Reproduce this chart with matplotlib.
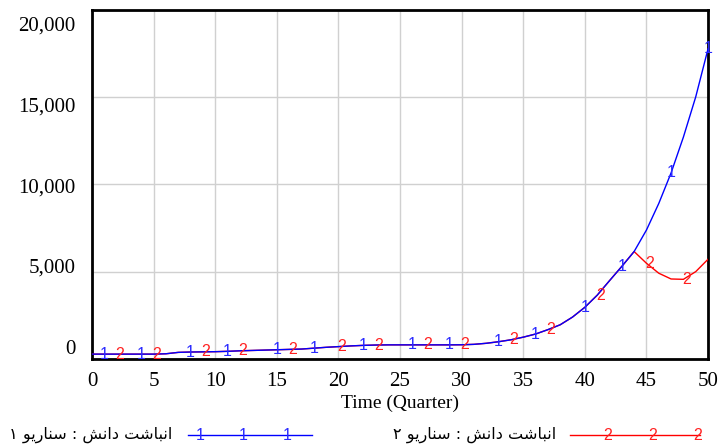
import matplotlib
matplotlib.use("Agg")
import matplotlib.pyplot as plt
import matplotlib.transforms as mtransforms
from matplotlib.lines import Line2D
from matplotlib.ticker import FuncFormatter

# quarters 0..50
time = list(range(51))
scenario1 = [280, 280, 280, 280, 280, 280, 300, 380, 400, 410,
             420, 440, 470, 490, 510, 530, 550, 570, 620, 670,
             710, 750, 780, 800, 810, 810, 810, 810, 810, 810,
             815, 840, 900, 990, 1100, 1250, 1430, 1680, 1960, 2400,
             2960, 3650, 4480, 5300, 6150, 7380, 8900, 10650, 12700, 15000,
             17750]
scenario2 = scenario1[:45] + [5480, 4910, 4580, 4560, 5000, 5710]

marks1 = [1, 4, 8, 11, 15, 18, 22, 26, 29, 33, 36, 40, 43, 47, 50]
marks2 = [2, 5, 9, 12, 16, 20, 23, 27, 30, 34, 37, 41, 45, 48]

xticks = [0, 5, 10, 15, 20, 25, 30, 35, 40, 45, 50]
yticks = [0, 5000, 10000, 15000, 20000]
label1 = "انباشت دانش : سناریو ۱"
label2 = "انباشت دانش : سناریو ۲"

# matplotlib has no arabic shaping -> tiny shaper for the letters used
# (isolated, final, initial, medial)
FORMS = {
    'ا': ('\uFE8D', '\uFE8E', None, None),
    'د': ('\uFEA9', '\uFEAA', None, None),
    'ر': ('\uFEAD', '\uFEAE', None, None),
    'و': ('\uFEED', '\uFEEE', None, None),
    'ب': ('\uFE8F', '\uFE90', '\uFE91', '\uFE92'),
    'ت': ('\uFE95', '\uFE96', '\uFE97', '\uFE98'),
    'س': ('\uFEB1', '\uFEB2', '\uFEB3', '\uFEB4'),
    'ش': ('\uFEB5', '\uFEB6', '\uFEB7', '\uFEB8'),
    'ن': ('\uFEE5', '\uFEE6', '\uFEE7', '\uFEE8'),
    'ی': ('\uFBFC', '\uFBFD', '\uFBFE', '\uFBFF'),
}


def shape(s):
    out = []
    for i, c in enumerate(s):
        if c not in FORMS:
            out.append(c)
            continue
        prev = s[i - 1] if i > 0 else ''
        nxt = s[i + 1] if i + 1 < len(s) else ''
        jp = prev in FORMS and FORMS[prev][2] is not None
        jn = FORMS[c][2] is not None and nxt in FORMS
        f = FORMS[c]
        if jp and jn:
            out.append(f[3])
        elif jp:
            out.append(f[1])
        elif jn:
            out.append(f[2])
        else:
            out.append(f[0])
    return ''.join(out[::-1])


fig = plt.figure(figsize=(7.2, 4.44), dpi=100)
ax = fig.add_axes([0.1278, 0.1914, 0.8556, 0.7872])

ax.plot(time, scenario2, color='#ff0000', lw=1.0, zorder=3)
ax.plot(time, scenario1, color='#0000ff', lw=1.0, zorder=4)

mk = 11.5
for t in marks2:
    ax.text(t + 0.25, scenario2[t], '2', color='#ff2020', fontsize=mk, family='Liberation Sans',
            ha='center', va='center', zorder=5)
for t in marks1:
    ax.text(t, scenario1[t], '1', color='#2a2aff', fontsize=mk, family='Liberation Sans',
            ha='center', va='center', zorder=6)

ax.set_xlim(0, 50)
ax.set_ylim(0, 20000)
ax.set_xticks(xticks)
ax.set_yticks(yticks)
ax.yaxis.set_major_formatter(FuncFormatter(lambda v, p: f"{int(v):,}"))
ax.grid(True, color='#d0d0d0', lw=1.0)
ax.set_axisbelow(True)
ax.tick_params(length=0, labelsize=15)
ax.tick_params(axis='y', pad=12)
ax.tick_params(axis='x', pad=9)
for lab in ax.get_xticklabels() + ax.get_yticklabels():
    lab.set_family('Liberation Serif')
for sp in ax.spines.values():
    sp.set_linewidth(2.0)
    sp.set_color('black')

# vensim spreads the y labels a bit tighter than the grid
for i, lab in enumerate(ax.get_yticklabels()):
    dy = (12.5 - 6.75 * i) / 100.0
    lab.set_transform(lab.get_transform() + mtransforms.ScaledTranslation(0, dy, fig.dpi_scale_trans))

ax.set_xlabel('Time (Quarter)', family='Liberation Serif', fontsize=14, labelpad=3)

# legend drawn by hand along the bottom
ly = 1 - 435 / 444
fig.text(172 / 720, ly, shape(label1), ha='right', va='center', fontsize=11.6, family=['DejaVu Sans'])
fig.add_artist(Line2D([188 / 720, 312 / 720], [ly, ly], color='#0000ff', lw=1.0, transform=fig.transFigure))
for px in [200, 243, 287]:
    fig.text(px / 720, ly, '1', color='#2a2aff', fontsize=mk, family='Liberation Sans', ha='center', va='center')
fig.text(556 / 720, ly, shape(label2), ha='right', va='center', fontsize=11.6, family=['DejaVu Sans'])
fig.add_artist(Line2D([570 / 720, 700 / 720], [ly, ly], color='#ff0000', lw=1.0, transform=fig.transFigure))
for px in [608, 653, 698]:
    fig.text(px / 720, ly, '2', color='#ff2020', fontsize=mk, family='Liberation Sans', ha='center', va='center')

fig.savefig('out.png', dpi=100)
